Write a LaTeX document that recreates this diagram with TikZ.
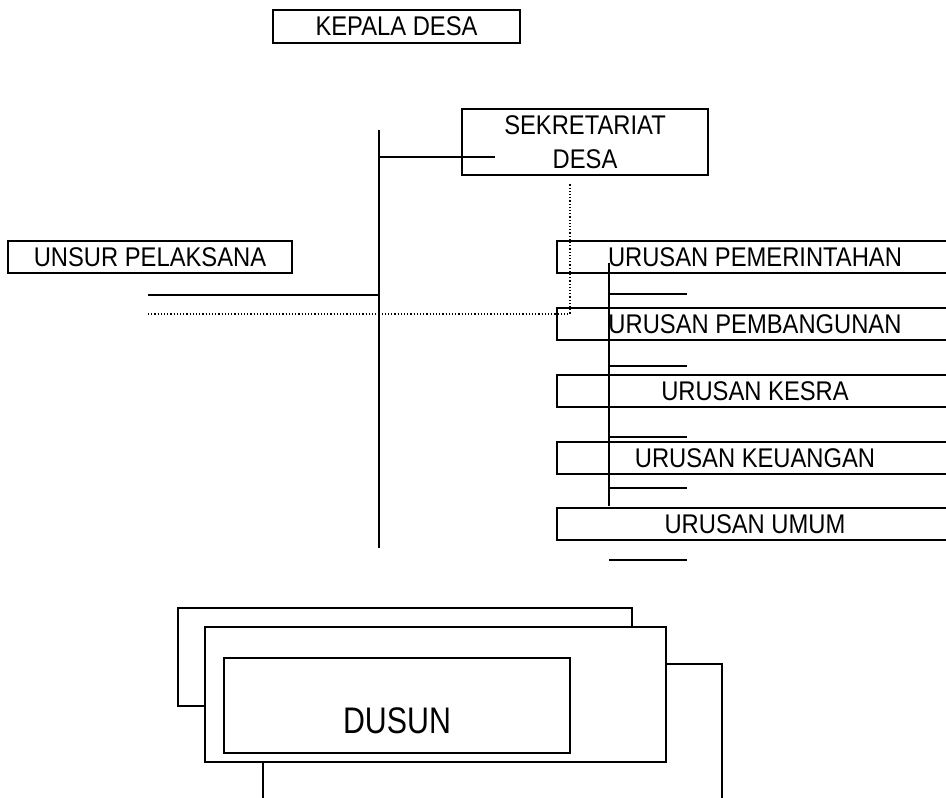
\documentclass[tikz,border=0pt]{standalone}
\usepackage{fontspec}
\setmainfont[FakeStretch=0.88]{Liberation Sans}
\newfontfamily\dusunfont[FakeStretch=0.82]{Liberation Sans}
\begin{document}
\begin{tikzpicture}[x=1pt,y=-1pt,
  box/.style={draw,line width=1.6pt,inner sep=0pt,font=\fontsize{27}{34}\selectfont},
  urbox/.style={box,minimum width=396pt,minimum height=32pt},
  ln/.style={line width=1.6pt},
  dl/.style={line width=1.2pt,dotted}]
\clip (0,0) rectangle (946,798);
\fill[white] (0,0) rectangle (946,798);
% top boxes
\node[box,minimum width=247pt,minimum height=33pt] (kepala) at (396.5,26.5) {KEPALA DESA};
\node[box,minimum width=246pt,minimum height=66pt,align=center] (sek) at (585,142) {SEKRETARIAT\\DESA};
\node[box,minimum width=284pt,minimum height=32pt] (unsur) at (150,257) {UNSUR PELAKSANA};
% urusan boxes
\node[urbox] (u1) at (755,257) {URUSAN PEMERINTAHAN};
\node[urbox] (u2) at (755,324) {URUSAN PEMBANGUNAN};
\node[urbox] (u3) at (755,391) {URUSAN KESRA};
\node[urbox] (u4) at (755,458) {URUSAN KEUANGAN};
\node[urbox] (u5) at (755,524) {URUSAN UMUM};
% main spine
\coordinate (mtop) at (379,130);
\coordinate (mbot) at (379,548);
\draw[ln] (mtop) -- (mbot);
\coordinate (sekA) at (379,157);
\coordinate (sekB) at (495,157);
\draw[ln] (sekA) -- (sekB);
\coordinate (solL) at (148,295);
\coordinate (solR) at (379,295);
\draw[ln] (solL) -- (solR);
\coordinate (dotL) at (148,314);
\coordinate (dotC) at (570,314);
\coordinate (dotT) at (570,183);
\draw[dl] (dotL) -- (dotC) -- (dotT);
% urusan spine
\coordinate (utop) at (609,263);
\coordinate (ubot) at (609,506);
\draw[ln] (utop) -- (ubot);
\foreach \y/\n in {294/a,366/b,437/c,488/d}{
  \coordinate (s\n) at (609,\y);
  \coordinate (e\n) at (687,\y);
  \draw[ln] (s\n) -- (e\n);
}
\coordinate (se) at (609,560);
\coordinate (ee) at (687,560);
\draw[ln] (se) -- (ee);
% dusun
\coordinate (b1) at (205,706);
\coordinate (b2) at (178,706);
\coordinate (b3) at (178,608);
\coordinate (b4) at (632,608);
\coordinate (b5) at (632,627);
\draw[ln] (b1) -- (b2) -- (b3) -- (b4) -- (b5);
\node[draw,line width=1.6pt,minimum width=461pt,minimum height=135pt,inner sep=0pt] (front) at (435.5,694.5) {};
\node[draw,line width=1.1pt,minimum width=346pt,minimum height=95pt,inner sep=0pt] (inner) at (397,705.5) {};
\node[inner sep=0pt,font=\dusunfont\fontsize{37}{40}\selectfont] (dusun) at (397,721) {DUSUN};
\coordinate (r1) at (666,664);
\coordinate (r2) at (722,664);
\coordinate (r3) at (722,800);
\draw[ln] (r1) -- (r2) -- (r3);
\coordinate (d1) at (263,762);
\coordinate (d2) at (263,800);
\draw[ln] (d1) -- (d2);
\end{tikzpicture}
\end{document}
